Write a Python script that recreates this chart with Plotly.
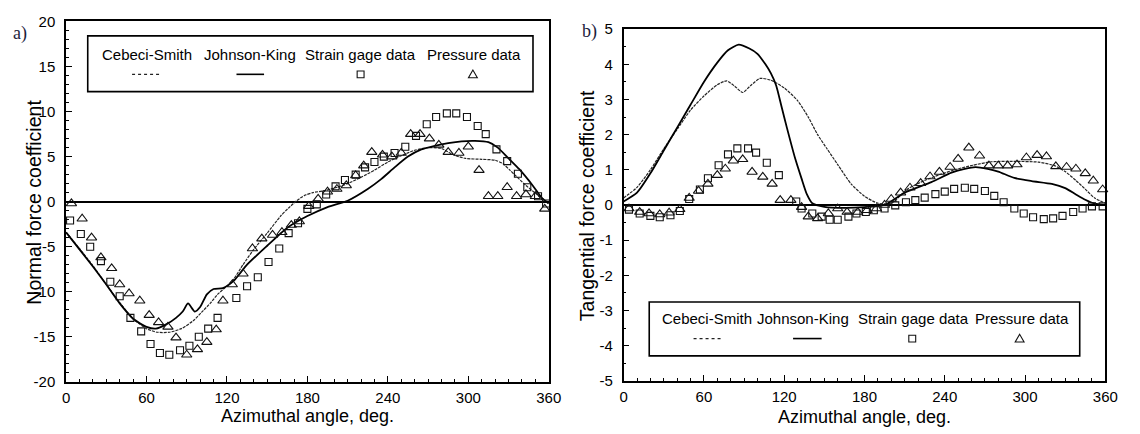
import plotly.graph_objects as go

# ---------------- data: panel a) normal force coefficient ----------------
a_cs_deg = [0, 10, 20, 30, 40, 50, 60, 68, 77, 86, 95, 101, 108, 113, 119, 125, 132, 140, 150,
            160, 166, 172, 178, 184, 192, 200, 210, 220, 230, 240, 250, 260, 270, 280, 289, 298,
            310, 320, 326, 331, 343, 352, 360]
a_cs_val = [-3.4, -5.2, -7.1, -9.2, -11.2, -13.0, -14.1, -14.5, -14.5, -14.1, -13.2, -12.3, -11.2,
            -10.3, -9.5, -8.6, -7.0, -5.3, -3.5, -1.6, -0.7, 0.1, 0.7, 1.0, 1.2, 1.5, 2.0, 2.7, 3.5,
            4.4, 5.1, 5.7, 6.0, 5.9, 5.2, 4.8, 4.7, 4.6, 4.2, 3.5, 1.8, 0.7, -0.2]

a_jk_deg = [0, 10, 20, 30, 40, 50, 60, 67, 75, 82, 87, 91, 96, 100, 105, 110, 117, 125, 135, 150,
            165, 180, 195, 210, 225, 235, 245, 255, 265, 275, 285, 295, 305, 315, 322, 330, 338,
            348, 355, 360]
a_jk_val = [-3.4, -5.3, -7.2, -9.2, -11.3, -13.0, -13.9, -14.1, -13.6, -12.9, -12.2, -11.3, -12.2,
            -11.7, -10.3, -9.7, -9.6, -8.8, -7.0, -4.9, -2.9, -1.6, -0.6, 0.1, 1.4, 2.5, 3.8, 5.0,
            5.8, 6.2, 6.5, 6.7, 6.75, 6.6, 6.0, 4.8, 3.6, 1.8, 0.4, -0.2]

a_sg_deg = [3, 11, 18, 26, 33, 40, 48, 56, 63, 70, 77, 85, 92, 99, 106, 113, 127, 135, 143, 151,
            159, 166, 173, 180, 187, 194, 201, 208, 216, 223, 230, 237, 245, 253, 261, 269, 276,
            284, 291, 299, 307, 313, 321, 329, 337, 344, 352, 358]
a_sg_val = [-2.1, -3.6, -5.0, -6.6, -8.9, -10.5, -12.9, -14.4, -15.8, -16.8, -17.0, -16.5, -16.0,
            -15.0, -14.1, -12.9, -10.7, -9.4, -8.4, -6.7, -5.2, -3.5, -2.4, -0.8, -0.3, 0.8, 1.7,
            2.4, 3.0, 3.8, 4.4, 5.0, 5.4, 6.1, 7.3, 8.6, 9.4, 9.8, 9.8, 9.4, 8.4, 7.5, 5.8, 4.5,
            3.1, 1.6, 0.6, -0.2]

a_pr_deg = [4, 12, 19, 26, 34, 40, 47, 55, 62, 69, 76, 82, 90, 98, 105, 112, 117, 124, 132, 139,
            146, 154, 161, 168, 174, 181, 188, 195, 202, 209, 216, 222, 228, 236, 243, 250, 257,
            264, 271, 278, 285, 293, 300, 308, 315, 322, 329, 336, 343, 350, 357]
a_pr_val = [-0.2, -1.9, -4.0, -6.2, -7.4, -9.2, -10.2, -11.0, -12.6, -13.4, -13.9, -15.1, -17.0,
            -16.4, -15.6, -14.2, -11.0, -9.2, -8.0, -5.2, -4.1, -3.7, -3.4, -2.6, -2.2, -0.5, 0.3,
            1.1, 1.4, 1.8, 2.9, 4.0, 5.5, 5.2, 5.0, 5.4, 7.5, 7.5, 7.0, 6.3, 5.5, 5.4, 6.1, 3.5,
            0.6, 0.6, 1.6, 0.6, 0.8, 0.6, -0.8]

# ---------------- data: panel b) tangential force coefficient ----------------
b_cs_deg = [0, 10, 20, 30, 40, 50, 60, 70, 77, 83, 89, 95, 102, 110, 120, 130, 138, 145, 152, 160,
            170, 180, 190, 200, 212, 225, 236, 250, 261, 275, 293, 310, 322, 330, 338, 345, 352, 360]
b_cs_val = [0.2, 0.5, 1.0, 1.6, 2.15, 2.7, 3.1, 3.42, 3.53, 3.38, 3.2, 3.4, 3.6, 3.55, 3.33, 2.97,
            2.5, 2.0, 1.6, 1.15, 0.6, 0.25, 0.05, 0.05, 0.45, 0.7, 0.86, 1.03, 1.13, 1.23, 1.24,
            1.22, 1.12, 0.95, 0.7, 0.45, 0.2, 0.05]

b_jk_deg = [0, 10, 20, 30, 40, 50, 60, 70, 78, 86, 94, 100, 106, 110, 114, 118, 122, 128, 133, 137,
            141, 150, 165, 180, 195, 210, 230, 245, 255, 263, 272, 280, 292, 305, 320, 330, 338,
            345, 352, 360]
b_jk_val = [0.1, 0.35, 0.9, 1.55, 2.2, 2.85, 3.5, 4.05, 4.4, 4.56, 4.45, 4.3, 4.0, 3.75, 3.4, 2.8,
            2.2, 1.35, 0.75, 0.3, 0.05, -0.05, -0.08, -0.06, 0.0, 0.35, 0.65, 0.92, 1.03, 1.08,
            1.03, 0.95, 0.77, 0.68, 0.6, 0.48, 0.3, 0.15, 0.04, 0.0]

b_sg_deg = [4, 12, 20, 27, 35, 42, 49, 57, 63, 71, 78, 85, 93, 99, 107, 116, 129, 133, 141, 148,
            154, 160, 168, 174, 181, 187, 195, 203, 211, 218, 225, 233, 240, 247, 255, 262, 270,
            277, 284, 292, 299, 306, 314, 321, 328, 336, 343, 350, 358]
b_sg_val = [-0.13, -0.24, -0.31, -0.35, -0.29, -0.17, 0.17, 0.44, 0.76, 1.13, 1.44, 1.61, 1.61,
            1.49, 1.2, 0.85, 0.1, -0.1, -0.24, -0.33, -0.42, -0.42, -0.33, -0.24, -0.2, -0.15,
            -0.1, -0.01, 0.08, 0.14, 0.21, 0.31, 0.38, 0.46, 0.49, 0.46, 0.4, 0.26, 0.08, -0.1,
            -0.24, -0.35, -0.4, -0.38, -0.31, -0.2, -0.1, -0.04, -0.04]

b_pr_deg = [4, 12, 19, 27, 34, 42, 49, 56, 63, 70, 76, 82, 89, 96, 104, 111, 117, 125, 133, 138,
            145, 153, 160, 167, 175, 182, 189, 195, 200, 207, 214, 222, 229, 236, 244, 250, 258,
            266, 273, 280, 287, 294, 301, 309, 316, 323, 331, 338, 345, 351, 358]
b_pr_val = [-0.1, -0.2, -0.24, -0.27, -0.22, -0.12, 0.2, 0.4, 0.6, 0.85, 1.03, 1.26, 1.3, 0.94,
            0.8, 0.6, 0.14, 0.14, -0.06, -0.33, -0.38, -0.24, -0.1, -0.2, -0.2, -0.15, -0.1, 0.0,
            0.17, 0.35, 0.49, 0.62, 0.81, 0.94, 1.08, 1.31, 1.63, 1.4, 1.12, 1.12, 1.12, 1.15,
            1.35, 1.42, 1.38, 1.1, 1.08, 1.03, 0.9, 0.69, 0.44]

# ---------------- tick labels / texts ----------------
x_ticks = [0, 60, 120, 180, 240, 300, 360]
x_ticktext = ["0", "60", "120", "180", "240", "300", "360"]
a_y_ticks = [-20, -15, -10, -5, 0, 5, 10, 15, 20]
a_y_ticktext = ["-20", "-15", "-10", "-5", "0", "5", "10", "15", "20"]
b_y_ticks = [-5, -4, -3, -2, -1, 0, 1, 2, 3, 4, 5]
b_y_ticktext = ["-5", "-4", "-3", "-2", "-1", "0", "1", "2", "3", "4", "5"]
legend_names = ["Cebeci-Smith", "Johnson-King", "Strain gage data", "Pressure data"]
x_title = "Azimuthal angle, deg."
a_y_title = "Normal force coefficient"
b_y_title = "Tangential force coefficient"

# ---------------- layout helpers ----------------
W, H = 1140, 434
FONT = "Liberation Sans, Arial, Helvetica, sans-serif"
INK = "#000000"


def fx(px):
    return px / W


def fy(py):
    return 1 - py / H


fig = go.Figure()

line_cs = dict(color="#262626", width=1.2, dash="3px,1px")
line_jk = dict(color="#000000", width=1.8)
mk_sq = dict(symbol="square-open", size=7, color="#111111", line=dict(width=1.1))
mk_tr = dict(symbol="triangle-up-open", size=9, color="#111111", line=dict(width=1.1))

for xa, ya, cs_d, cs_v, jk_d, jk_v, sg_d, sg_v, pr_d, pr_v in [
    ("x", "y", a_cs_deg, a_cs_val, a_jk_deg, a_jk_val, a_sg_deg, a_sg_val, a_pr_deg, a_pr_val),
    ("x2", "y2", b_cs_deg, b_cs_val, b_jk_deg, b_jk_val, b_sg_deg, b_sg_val, b_pr_deg, b_pr_val),
]:
    fig.add_trace(go.Scatter(x=cs_d, y=cs_v, mode="lines", line=dict(line_cs, shape="spline", smoothing=0.6),
                             xaxis=xa, yaxis=ya, showlegend=False, name=legend_names[0]))
    fig.add_trace(go.Scatter(x=jk_d, y=jk_v, mode="lines", line=dict(line_jk, shape="spline", smoothing=0.6),
                             xaxis=xa, yaxis=ya, showlegend=False, name=legend_names[1]))
    fig.add_trace(go.Scatter(x=sg_d, y=sg_v, mode="markers", marker=mk_sq, cliponaxis=False,
                             xaxis=xa, yaxis=ya, showlegend=False, name=legend_names[2]))
    fig.add_trace(go.Scatter(x=pr_d, y=pr_v, mode="markers", marker=mk_tr, cliponaxis=False,
                             xaxis=xa, yaxis=ya, showlegend=False, name=legend_names[3]))

common_axis = dict(
    showline=True, linecolor="black", linewidth=1.5, mirror=True,
    showgrid=False, ticks="inside", ticklen=6, tickwidth=1.2, tickcolor="black",
    tickfont=dict(family=FONT, size=15, color=INK), tickmode="array",
)

fig.update_layout(
    width=W, height=H,
    margin=dict(l=0, r=0, t=0, b=0),
    paper_bgcolor="white", plot_bgcolor="white",
    showlegend=False,
    xaxis=dict(common_axis, domain=[fx(63), fx(553)], range=[0, 360], anchor="y",
               tickvals=x_ticks, ticktext=x_ticktext, zeroline=False, ticklabelstandoff=1,
               minor=dict(tickmode="linear", tick0=0, dtick=10, ticks="inside", ticklen=3,
                          tickcolor="black", tickwidth=1)),
    yaxis=dict(common_axis, domain=[fy(388), fy(13)], range=[-20, 20], anchor="x",
               tickvals=a_y_ticks, ticktext=a_y_ticktext, zeroline=True, zerolinecolor="black",
               zerolinewidth=1.6, ticklabelstandoff=6,
               minor=dict(tickmode="linear", tick0=0, dtick=1, ticks="inside", ticklen=3,
                          tickcolor="black", tickwidth=1)),
    xaxis2=dict(common_axis, domain=[fx(629), fx(1118)], range=[0, 360], anchor="y2",
                tickvals=x_ticks, ticktext=x_ticktext, zeroline=False, ticklabelstandoff=1,
                minor=dict(tickmode="linear", tick0=0, dtick=10, ticks="inside", ticklen=3,
                           tickcolor="black", tickwidth=1)),
    yaxis2=dict(common_axis, domain=[fy(387), fy(21)], range=[-5, 5], anchor="x2",
                tickvals=b_y_ticks, ticktext=b_y_ticktext, zeroline=True, zerolinecolor="black",
                zerolinewidth=1.6, ticklabelstandoff=6,
                minor=dict(tickmode="linear", tick0=0, dtick=0.5, ticks="inside", ticklen=3,
                           tickcolor="black", tickwidth=1)),
)

annotations = []
shapes = []

# axis titles
for cx, cy in [(308, 424), (874, 425)]:
    annotations.append(dict(x=fx(cx), y=fy(cy), xref="paper", yref="paper", text=x_title,
                            showarrow=False, xanchor="center", yanchor="middle",
                            font=dict(family=FONT, size=18, color=INK)))
for cx, cy, t in [(31, 201, a_y_title), (592, 205, b_y_title)]:
    annotations.append(dict(x=fx(cx), y=fy(cy), xref="paper", yref="paper", text=t,
                            showarrow=False, textangle=-90, xanchor="center", yanchor="middle",
                            font=dict(family=FONT, size=19.5, color=INK)))

# panel labels
for cx, cy, t in [(16, 25, "a)"), (594, 23, "b)")]:
    annotations.append(dict(x=fx(cx), y=fy(cy), xref="paper", yref="paper", text=t,
                            showarrow=False, xanchor="center", yanchor="middle",
                            font=dict(family="Liberation Serif, Times New Roman, serif", size=18,
                                      color="#1c1c3c")))


def add_legend(box, text_y, sym_y, centers, line1, line2, sq_x, tr_x):
    x0, y0, x1, y1 = box
    shapes.append(dict(type="rect", xref="paper", yref="paper", x0=fx(x0), x1=fx(x1),
                       y0=fy(y1), y1=fy(y0), line=dict(color="black", width=1.6)))
    for cx, name in zip(centers, legend_names):
        annotations.append(dict(x=fx(cx), y=fy(text_y), xref="paper", yref="paper", text=name,
                                showarrow=False, xanchor="center", yanchor="middle",
                                font=dict(family=FONT, size=15, color=INK)))
    shapes.append(dict(type="line", xref="paper", yref="paper", x0=fx(line1[0]), x1=fx(line1[1]),
                       y0=fy(sym_y), y1=fy(sym_y), line=dict(color="#222", width=1.3, dash="dot")))
    shapes.append(dict(type="line", xref="paper", yref="paper", x0=fx(line2[0]), x1=fx(line2[1]),
                       y0=fy(sym_y), y1=fy(sym_y), line=dict(color="black", width=1.6)))
    shapes.append(dict(type="rect", xref="paper", yref="paper", x0=fx(sq_x - 3.5), x1=fx(sq_x + 3.5),
                       y0=fy(sym_y + 3.5), y1=fy(sym_y - 3.5), line=dict(color="#111", width=1.1)))
    path = "M {:.5f} {:.5f} L {:.5f} {:.5f} L {:.5f} {:.5f} Z".format(
        fx(tr_x), fy(sym_y - 4.5), fx(tr_x - 4.5), fy(sym_y + 3.5), fx(tr_x + 4.5), fy(sym_y + 3.5))
    shapes.append(dict(type="path", xref="paper", yref="paper", path=path,
                       line=dict(color="#111", width=1.1)))


add_legend((85, 28, 537, 86), 47, 68, [145, 250, 362, 477], (130, 160), (236, 264), 362, 476)
add_legend((655, 305, 1092, 361), 322, 343, [714, 811, 923, 1033], (700, 728), (801, 830), 922, 1031)

fig.update_layout(annotations=annotations, shapes=shapes)

fig.write_html("out.html", config={"displayModeBar": False},
               post_script="document.body.style.margin='0px';document.body.style.overflow='hidden';")
